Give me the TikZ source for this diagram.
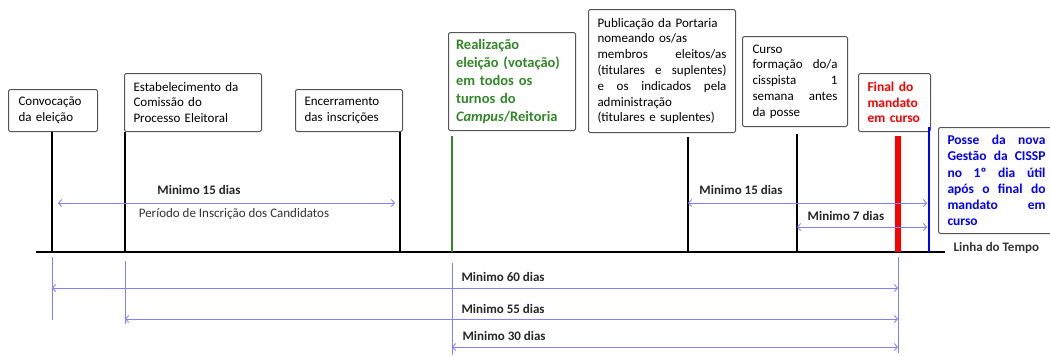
\documentclass[tikz,border=0pt]{standalone}
\usepackage{fontspec}
\setmainfont{Carlito}
\usetikzlibrary{arrows.meta}
\definecolor{spanblue}{RGB}{130,130,255}
\definecolor{votegreen}{RGB}{50,135,40}
\definecolor{boxgray}{RGB}{85,85,85}
\tikzset{
  evbox/.style={draw=boxgray, line width=1pt, rounded corners=1.5pt, anchor=north west,
    align=left, inner ysep=2pt, font=\fontsize{13}{15.8}\selectfont},
  tick/.style={line width=2.4pt},
  span/.style={draw=spanblue, line width=0.9pt,
    {Straight Barb[length=3pt,width=7pt]}-{Straight Barb[length=3pt,width=7pt]}},
  guide/.style={draw=spanblue, line width=0.8pt},
  daylbl/.style={font=\fontsize{13}{15}\selectfont\bfseries, text=black!85},
}
\begin{document}
\begin{tikzpicture}[x=1pt,y=-1pt]
  \useasboundingbox (0,0) rectangle (1050,356);
  %% event boxes
  \node[evbox, text width=69pt, inner xsep=10pt, minimum height=42pt] (conv) at (8,89)
    {Convocação\\da eleição};
  \node[evbox, text width=119pt, inner xsep=9pt, minimum height=58pt] (estab) at (124,73)
    {Estabelecimento da\\Comissão do\\Processo Eleitoral};
  \node[evbox, text width=89pt, inner xsep=9pt, minimum height=42pt] (encer) at (295,89)
    {Encerramento\\das inscrições};
  \node[evbox, text width=112pt, inner xsep=7.5pt, minimum height=98pt, text=votegreen,
    font=\fontsize{14.5}{17.8}\selectfont\bfseries] (vot) at (448,32)
    {Realização\\eleição (votação)\\em todos os\\turnos do\\\textit{Campus}/Reitoria};
  \node[evbox, text width=129pt, inner xsep=9pt, minimum height=123pt] (port) at (588,9)
    {Publicação da Portaria\\nomeando os/as\\membros\hfill eleitos/as\\(titulares\hfill e\hfill suplentes)\\
     e\hfill os\hfill indicados\hfill pela\\administração\\(titulares e suplentes)};
  \node[evbox, text width=85pt, inner xsep=10pt, minimum height=90pt] (curso) at (742,36)
    {Curso\\formação\hfill do/a\\cisspista\hfill 1\\semana\hfill antes\\da posse};
  \node[evbox, text width=54pt, inner xsep=9pt, minimum height=58pt, text=red,
    font=\fontsize{13.5}{15.8}\selectfont\bfseries] (final) at (858,73)
    {Final do\\mandato\\em curso};
  \node[evbox, text width=98pt, inner xsep=9pt, minimum height=106pt, text=blue,
    font=\fontsize{13.5}{16.2}\selectfont\bfseries] (posse) at (938,127)
    {Posse\hfill da\hfill nova\\Gestão\hfill da\hfill CISSP\\no\hfill 1º\hfill dia\hfill útil\\
     após\hfill o\hfill final\hfill do\\mandato\hfill em\\curso};
  %% timeline
  \coordinate (tstart) at (36,252);
  \coordinate (tend) at (945,252);
  \coordinate (tconv) at (52,252);
  \coordinate (testab) at (125,252);
  \coordinate (tencer) at (400,252);
  \coordinate (tvot) at (452,252);
  \coordinate (tport) at (688,252);
  \coordinate (tcurso) at (797,252);
  \coordinate (tfinal) at (898,252);
  \coordinate (tposse) at (929,252);
  \draw[line width=2.8pt] (tstart) -- (tend)
    node[right=4pt, font=\fontsize{13}{15}\selectfont\bfseries, text=black!80, yshift=4pt] (linha) {Linha do Tempo};
  \draw[tick] (tconv |- conv.south) -- (tconv);
  \draw[tick] (testab |- estab.south) -- (testab);
  \draw[tick] (tencer |- encer.south) -- (tencer);
  \draw[votegreen, line width=1.6pt] ([yshift=-5pt]tvot |- vot.south) -- (tvot);
  \draw[tick] ([yshift=-4pt]tport |- port.south) -- (tport);
  \draw[tick] ([yshift=-7pt]tcurso |- curso.south) -- (tcurso);
  \draw[red, line width=6pt] ([yshift=-4pt]tfinal |- final.south) -- (tfinal);
  \draw[blue, line width=2.6pt] (tposse |- posse.north) -- (tposse);
  %% spans above the line
  \coordinate (ainsc) at (58,203);
  \coordinate (binsc) at (395,203);
  \draw[span] (ainsc) -- (binsc);
  \node[daylbl] (l15a) at (199,190) {Minimo 15 dias};
  \node[font=\fontsize{13}{15}\selectfont, text=black!80] (periodo) at (234,214) {Período de Inscrição dos Candidatos};
  \coordinate (aport) at (tport |- 0,203);
  \coordinate (bport) at (927,203);
  \draw[span] (aport) -- (bport);
  \node[daylbl] (l15b) at (741,190) {Minimo 15 dias};
  \coordinate (acurso) at (tcurso |- 0,227);
  \coordinate (bcurso) at (927,227);
  \draw[span] (acurso) -- (bcurso);
  \node[daylbl] (l7) at (846,216) {Minimo 7 dias};
  %% spans below the line
  \draw[guide] ([yshift=-5pt]tconv) -- ++(0,63) coordinate (gconv);
  \draw[guide] ([yshift=-9pt]testab) -- ++(0,63) coordinate (gestab);
  \draw[guide] ([yshift=-11pt]tvot) -- ++(0,92) coordinate (gvot);
  \draw[guide] ([yshift=-5pt]tfinal) -- ++(0,96) coordinate (gfinal);
  \draw[span] (tconv |- 0,288) -- (tfinal |- 0,288);
  \node[daylbl, anchor=west] (l60) at (458,277) {Minimo 60 dias};
  \draw[span] (testab |- 0,319) -- (tfinal |- 0,319);
  \node[daylbl, anchor=west] (l55) at (458,309) {Minimo 55 dias};
  \draw[span] (tvot |- 0,347) -- (tfinal |- 0,347);
  \node[daylbl, anchor=west] (l30) at (459,336) {Minimo 30 dias};
\end{tikzpicture}
\end{document}
